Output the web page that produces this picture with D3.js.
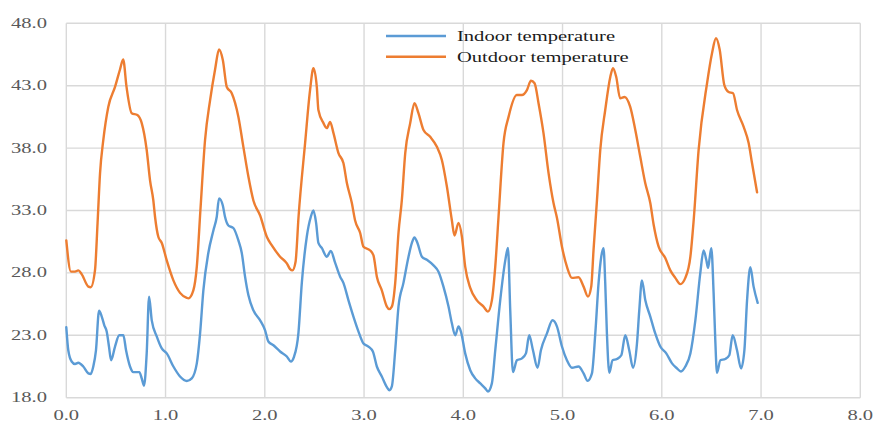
<!DOCTYPE html>
<html><head><meta charset="utf-8">
<script src="https://cdn.jsdelivr.net/npm/d3@7"></script>
<style>html,body{margin:0;padding:0;background:#fff;}svg{display:block;}</style>
</head><body>
<svg id="chart" width="874" height="423"></svg>
<script>
const seriesNames = ["Indoor temperature", "Outdoor temperature"];
const xTicks = [0,1,2,3,4,5,6,7,8];
const yTicks = [18,23,28,33,38,43,48];

const outdoorX = [0.000,0.047,0.088,0.121,0.155,0.222,0.246,0.289,0.315,0.340,0.373,0.423,0.491,0.541,0.573,0.607,0.659,0.716,0.760,0.810,0.844,0.877,0.894,0.927,0.962,1.012,1.079,1.146,1.214,1.230,1.280,1.315,1.351,1.398,1.449,1.499,1.539,1.577,1.617,1.667,1.734,1.784,1.835,1.885,1.953,2.020,2.071,2.154,2.222,2.255,2.278,2.310,2.340,2.406,2.456,2.490,2.524,2.540,2.591,2.625,2.658,2.692,2.742,2.792,2.827,2.877,2.910,2.961,2.994,3.062,3.095,3.129,3.179,3.230,3.253,3.280,3.314,3.347,3.381,3.415,3.465,3.508,3.548,3.599,3.666,3.734,3.784,3.835,3.885,3.911,3.952,3.986,4.019,4.070,4.137,4.204,4.248,4.288,4.322,4.355,4.405,4.456,4.540,4.591,4.641,4.682,4.718,4.758,4.808,4.859,4.909,4.944,4.994,5.044,5.095,5.161,5.212,5.256,5.289,5.312,5.347,5.380,5.430,5.481,5.508,5.541,5.580,5.625,5.682,5.733,5.783,5.833,5.884,5.917,5.968,6.035,6.086,6.136,6.187,6.237,6.288,6.321,6.371,6.456,6.506,6.546,6.583,6.630,6.673,6.718,6.758,6.825,6.875,6.909,6.960];
const outdoorT = [30.6,28.1,28.1,28.2,27.9,26.9,26.85,28.2,32.0,36.0,38.65,41.3,42.9,44.3,45.1,42.9,40.8,40.65,40.0,37.85,35.4,33.8,32.5,30.9,30.4,29.0,27.4,26.4,26.0,25.96,26.6,28.5,33.0,38.65,41.85,44.3,45.9,45.06,42.9,42.4,40.5,38.1,35.7,33.8,32.6,30.9,30.2,29.3,28.77,28.3,28.2,28.9,32.5,38.4,42.65,44.4,42.9,41.05,40.0,39.6,40.1,39.2,37.6,36.8,35.2,33.6,32.2,31.2,30.1,29.8,29.4,27.7,26.6,25.3,25.1,25.3,27.2,31.2,33.85,37.6,40.0,41.6,40.8,39.45,38.9,38.1,37.05,34.9,32.2,31.0,32.0,30.9,28.5,26.8,25.8,25.3,24.9,25.8,28.5,32.5,38.4,40.5,42.25,42.25,42.65,43.4,43.2,41.6,39.2,36.0,33.6,32.4,30.1,28.5,27.6,27.65,26.9,26.1,26.9,29.8,33.85,37.85,41.05,43.7,44.4,43.7,42.0,42.1,41.3,39.45,37.3,35.2,33.6,31.9,30.1,29.2,28.2,27.6,27.1,27.6,29.3,32.2,37.85,43.2,45.6,46.8,45.9,43.05,42.5,42.4,41.05,39.7,38.4,36.8,34.45];

const indoorX = [0.000,0.020,0.054,0.088,0.121,0.171,0.222,0.246,0.272,0.299,0.330,0.357,0.383,0.407,0.430,0.451,0.491,0.534,0.575,0.602,0.642,0.675,0.736,0.760,0.783,0.810,0.834,0.861,0.912,0.962,1.012,1.079,1.146,1.214,1.264,1.315,1.348,1.381,1.431,1.482,1.516,1.539,1.577,1.599,1.633,1.683,1.734,1.768,1.801,1.835,1.885,1.953,2.003,2.036,2.087,2.154,2.222,2.262,2.295,2.339,2.373,2.423,2.464,2.490,2.517,2.540,2.574,2.625,2.665,2.709,2.759,2.792,2.843,2.893,2.944,2.994,3.044,3.089,3.129,3.179,3.230,3.256,3.280,3.314,3.347,3.397,3.448,3.482,3.508,3.538,3.583,3.633,3.700,3.750,3.800,3.851,3.885,3.918,3.952,3.976,4.019,4.070,4.120,4.171,4.221,4.248,4.288,4.322,4.372,4.423,4.450,4.473,4.500,4.540,4.591,4.631,4.664,4.702,4.748,4.782,4.843,4.899,4.944,4.994,5.044,5.095,5.161,5.212,5.252,5.296,5.330,5.363,5.390,5.413,5.430,5.447,5.471,5.504,5.548,5.592,5.632,5.672,5.710,5.750,5.773,5.800,5.834,5.884,5.934,5.985,6.045,6.103,6.153,6.193,6.237,6.288,6.338,6.388,6.421,6.448,6.466,6.482,6.499,6.522,6.539,6.556,6.590,6.640,6.680,6.714,6.758,6.798,6.832,6.859,6.892,6.925,6.966];
const indoorT = [23.64,21.8,20.9,20.7,20.8,20.5,19.95,19.9,20.5,21.8,24.97,24.5,23.8,23.3,22.1,21.0,22.1,23.0,23.0,21.8,20.5,20.05,20.05,19.55,18.96,21.55,26.1,24.2,22.9,21.95,21.55,20.5,19.7,19.34,19.55,20.75,23.15,26.6,29.6,31.4,32.5,33.97,33.4,32.5,31.8,31.6,30.6,29.6,27.7,26.2,25.0,24.2,23.4,22.5,22.2,21.7,21.3,20.9,21.3,23.2,27.2,30.9,32.5,33.0,32.0,30.4,30.0,29.3,29.75,28.8,27.7,27.2,25.8,24.5,23.3,22.35,22.1,21.7,20.5,19.7,18.85,18.6,18.9,21.8,25.3,27.2,29.3,30.4,30.85,30.4,29.3,29.05,28.6,28.1,26.9,25.3,23.96,23.0,23.7,23.3,21.55,20.2,19.55,19.15,18.75,18.5,19.15,21.8,25.8,29.0,30.0,25.0,20.05,21.0,21.15,21.55,23.0,21.8,20.4,21.8,23.15,24.2,23.7,22.1,21.0,20.4,20.5,19.95,19.35,19.95,23.15,27.2,29.3,29.97,27.2,23.15,20.0,21.0,21.1,21.4,23.0,21.8,20.4,22.35,25.0,27.4,25.8,24.5,23.15,22.1,21.55,20.75,20.35,20.1,20.5,21.55,24.2,28.0,29.8,29.05,28.4,29.2,29.97,26.4,22.6,20.0,21.0,21.1,21.4,23.0,21.8,20.35,21.8,25.8,28.45,26.9,25.6];

const colors = ["#5B9BD5", "#ED7D31"];
const gridColor = "#d9d9d9";
const textColor = "#595959";
const stretch = 1.37;
const serif = "'Liberation Serif', 'Times New Roman', serif";

const svg = d3.select("#chart");
const x = d3.scaleLinear().domain([0, 8]).range([66.3, 860.3]);
const y = d3.scaleLinear().domain([18, 48]).range([397.7, 23.3]);

// grid
const grid = svg.append("g");
grid.selectAll("line.h").data(yTicks).join("line")
  .attr("x1", x(0)).attr("x2", x(8)).attr("y1", d => y(d)).attr("y2", d => y(d))
  .attr("stroke", gridColor).attr("stroke-width", 1.4);
grid.selectAll("line.v").data(xTicks).join("line")
  .attr("y1", y(18)).attr("y2", y(48)).attr("x1", d => x(d)).attr("x2", d => x(d))
  .attr("stroke", gridColor).attr("stroke-width", 1.4);

// tick labels
const fmt = d3.format(".1f");
svg.append("g").selectAll("g").data(yTicks).join("g")
  .attr("transform", d => `translate(47,${y(d) + 4.5}) scale(${stretch},1)`)
  .append("text").attr("text-anchor", "end")
  .style("font-family", serif).attr("font-size", 15)
  .attr("fill", textColor).text(d => fmt(d));
svg.append("g").selectAll("g").data(xTicks).join("g")
  .attr("transform", d => `translate(${x(d)},420) scale(${stretch},1)`)
  .append("text").attr("text-anchor", "middle")
  .style("font-family", serif).attr("font-size", 15)
  .attr("fill", textColor).text(d => fmt(d));

// lines
const line = d3.line().x(d => x(d[0])).y(d => y(d[1])).curve(d3.curveMonotoneX);
const indoor = indoorX.map((v, i) => [v, indoorT[i]]);
const outdoor = outdoorX.map((v, i) => [v, outdoorT[i]]);
[indoor, outdoor].forEach((data, i) => {
  svg.append("path").datum(data).attr("d", line)
    .attr("fill", "none").attr("stroke", colors[i]).attr("stroke-width", 2.4)
    .attr("stroke-linejoin", "round").attr("stroke-linecap", "round");
});

// legend
const legend = svg.append("g");
const legY = [36, 56.7];
seriesNames.forEach((name, i) => {
  legend.append("line").attr("x1", 386).attr("x2", 446).attr("y1", legY[i]).attr("y2", legY[i])
    .attr("stroke", colors[i]).attr("stroke-width", 2.4);
  legend.append("g").attr("transform", `translate(457,${legY[i] + 5}) scale(${stretch},1)`)
    .append("text").style("font-family", serif)
    .attr("font-size", 15).attr("fill", "#1a1a1a").text(name);
});
</script>
</body></html>
